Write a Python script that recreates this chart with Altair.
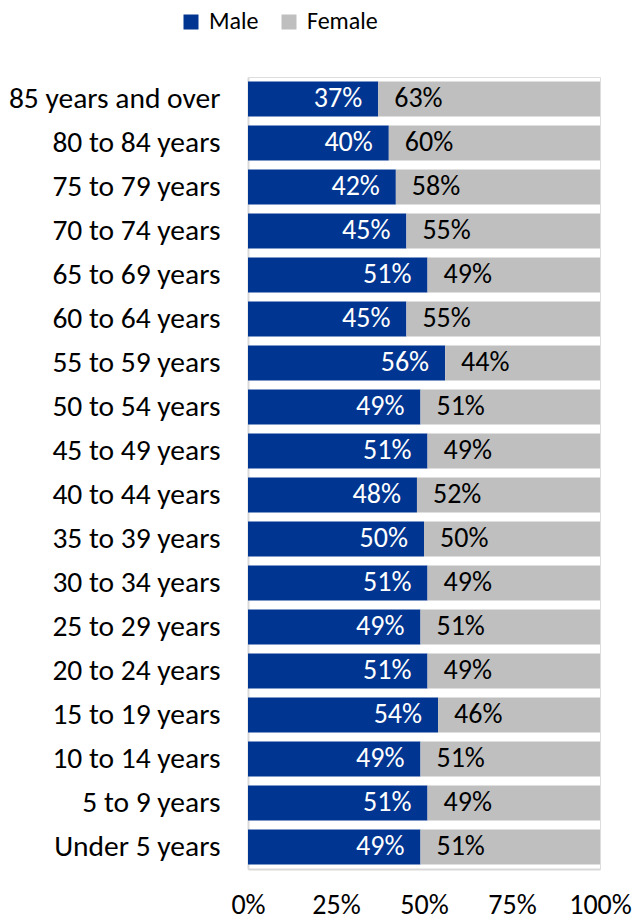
import altair as alt
import pandas as pd

groups = ["85 years and over", "80 to 84 years", "75 to 79 years", "70 to 74 years",
          "65 to 69 years", "60 to 64 years", "55 to 59 years", "50 to 54 years",
          "45 to 49 years", "40 to 44 years", "35 to 39 years", "30 to 34 years",
          "25 to 29 years", "20 to 24 years", "15 to 19 years", "10 to 14 years",
          "5 to 9 years", "Under 5 years"]
male = [37, 40, 42, 45, 51, 45, 56, 49, 51, 48, 50, 51, 49, 51, 54, 49, 51, 49]
female = [63, 60, 58, 55, 49, 55, 44, 51, 49, 52, 50, 49, 51, 49, 46, 51, 49, 51]

rows = []
for g, m, f in zip(groups, male, female):
    rows.append({"group": g, "sex": "Male", "value": m / 100, "ord": 0})
    rows.append({"group": g, "sex": "Female", "value": f / 100, "ord": 1})
df = pd.DataFrame(rows)
lab = pd.DataFrame({"group": groups, "m": [v / 100 for v in male],
                    "ml": [f"{v}%" for v in male], "fl": [f"{v}%" for v in female]})

FONT = "Carlito, Lato, sans-serif"
ysort = groups

bars = alt.Chart(df).mark_bar().encode(
    y=alt.Y("group:N", sort=ysort, title=None,
            scale=alt.Scale(paddingInner=0.2, paddingOuter=0.1),
            axis=alt.Axis(labelFont=FONT, labelFontSize=29.5, labelColor="#000000",
                          ticks=False, domainColor="#d9d9d9", domainWidth=2,
                          labelPadding=28, labelLimit=300)),
    x=alt.X("value:Q", stack="zero", title=None,
            scale=alt.Scale(domain=[0, 1], nice=False),
            axis=alt.Axis(format=".0%", values=[0, 0.25, 0.5, 0.75, 1], labelFont=FONT,
                          labelFontSize=28, labelColor="#000000", grid=False, ticks=False,
                          domainColor="#d9d9d9", domainWidth=2, labelPadding=22,
                          labelFlush=False)),
    color=alt.Color("sex:N", scale=alt.Scale(domain=["Male", "Female"],
                                              range=["#003591", "#bfbfbf"]),
                    legend=alt.Legend(title=None, orient="none", legendX=-69, legendY=-67,
                                      direction="horizontal", symbolType="square",
                                      symbolSize=225, symbolStrokeWidth=0,
                                      labelFont=FONT, labelFontSize=24, labelColor="#000000",
                                      columnPadding=18, labelOffset=6)),
    order=alt.Order("ord:Q"),
)

mtext = alt.Chart(lab).mark_text(align="right", dx=-16, font=FONT, fontSize=28,
                                  color="white", baseline="middle").encode(
    y=alt.Y("group:N", sort=ysort), x=alt.X("m:Q"), text="ml:N")
ftext = alt.Chart(lab).mark_text(align="left", dx=16, font=FONT, fontSize=28,
                                  color="black", baseline="middle").encode(
    y=alt.Y("group:N", sort=ysort), x=alt.X("m:Q"), text="fl:N")

chart = alt.layer(bars, mtext, ftext).properties(
    width=352, height=792,
    autosize=alt.AutoSizeParams(type="none"),
    padding={"left": 248, "top": 77, "right": 34, "bottom": 51},
).configure_view(stroke=None).configure(background="white")

chart.save("out.html", embed_options={"renderer": "svg", "actions": False})
